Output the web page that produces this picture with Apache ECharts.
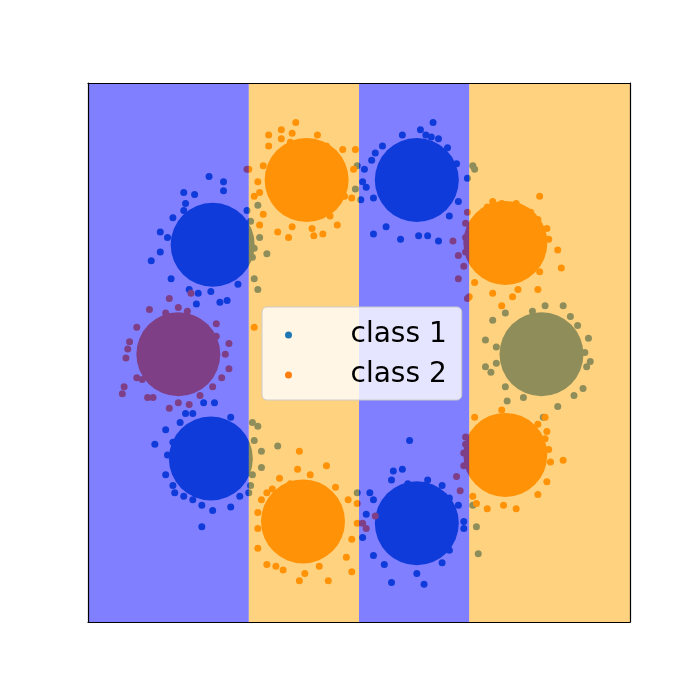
<!DOCTYPE html>
<html><head><meta charset="utf-8">
<script src="https://cdn.jsdelivr.net/npm/echarts@6/dist/echarts.min.js"></script>
<style>html,body{margin:0;padding:0;background:#fff}#c{width:700px;height:700px}</style>
</head><body><div id="c"></div>
<script>
// legend names
const classNames = ['class 1', 'class 2'];
// decision-region band edges along x and the class of each band
const bandEdges = [-1.5, -0.61, 0, 0.61, 1.5];
const bandClass = [1, 2, 1, 2];
// dense cluster cores (centres)
const class1Cores = [[-0.81,0.60],[0.32,0.96],[1.01,-0.01],[0.32,-0.95],[-0.82,-0.59]];
const class2Cores = [[-0.29,0.96],[0.81,0.61],[0.81,-0.57],[-0.31,-0.94],[-1.00,-0.01]];
// scattered points around the cores
const class1Points = [
[-0.83,0.98],[-0.75,0.95],[-0.75,0.90],[-0.97,0.89],[-0.91,0.88],[-0.96,0.83],[-0.97,0.79],[-1.03,0.75],[-1.10,0.67],[-1.06,0.64],[-1.10,0.56],[-1.15,0.51],[-1.04,0.41],[-0.94,0.35],[-0.89,0.33],[-0.90,0.27],[-0.82,0.34],[-0.77,0.28],[-0.73,0.29],[-0.67,0.38],[-0.56,0.82],[-0.62,0.79],[-0.55,0.64],[-0.51,0.55],[-0.58,0.58],[-0.59,0.53],[-0.58,0.41],[-0.56,0.35],[-0.60,0.73],
[0.41,1.28],[0.34,1.24],[0.37,1.21],[0.40,1.20],[0.44,1.19],[0.24,1.21],[0.13,1.15],[0.09,1.11],[0.07,1.07],[0.03,1.02],[0.02,0.95],[0.04,0.92],[0.01,0.85],[0.08,0.86],[0.08,0.66],[0.15,0.70],[0.23,0.63],[0.33,0.65],[0.38,0.65],[0.44,0.62],[0.50,0.76],[0.55,0.84],[0.60,0.97],[0.54,1.05],[0.49,1.14],[0.63,1.04],[0.64,1.02],[-0.01,1.04],[-0.02,0.91],
[1.03,0.26],[1.13,0.26],[0.96,0.23],[0.81,0.22],[0.74,0.18],[1.17,0.20],[1.21,0.15],[1.27,0.08],[0.70,0.07],[0.76,0.03],[0.76,-0.06],[0.70,-0.08],[0.73,-0.11],[0.81,-0.19],[0.91,-0.25],[0.82,-0.27],[1.10,-0.30],[1.02,-0.36],[1.19,-0.24],[1.24,-0.20],[1.28,-0.05],[1.26,-0.08],[1.25,0.00],
[0.28,-0.49],[0.19,-0.66],[0.24,-0.65],[0.18,-0.71],[0.27,-0.73],[0.38,-0.71],[0.46,-0.74],[0.06,-0.78],[0.08,-0.82],[0.04,-0.90],[0.02,-1.03],[0.08,-1.13],[0.14,-1.18],[0.18,-1.28],[0.36,-1.29],[0.32,-1.23],[0.46,-1.17],[0.50,-1.10],[0.58,-0.98],[0.58,-0.94],[0.55,-0.85],[0.50,-0.81],[0.63,-0.85],[0.65,-0.97],[0.66,-1.12],[-0.01,-0.78],
[-0.86,-0.28],[-0.80,-0.28],[-0.96,-0.34],[-0.92,-0.34],[-0.71,-0.36],[-0.99,-0.39],[-1.07,-0.43],[-1.03,-0.50],[-1.13,-0.51],[-1.06,-0.57],[-1.07,-0.68],[-1.03,-0.74],[-1.02,-0.78],[-0.97,-0.80],[-0.92,-0.82],[-0.87,-0.85],[-0.81,-0.88],[-0.71,-0.86],[-0.87,-0.97],[-0.66,-0.80],[-0.59,-0.39],[-0.56,-0.41],[-0.58,-0.49],[-0.54,-0.55],[-0.45,-0.52],[-0.54,-0.64],[-0.59,-0.68],[-0.60,-0.74],[-0.61,-0.78]
];
const class2Points = [
[-0.35,1.28],[-0.43,1.24],[-0.37,1.22],[-0.50,1.21],[-0.23,1.21],[-0.43,1.19],[-0.38,1.17],[-0.50,1.15],[-0.53,1.04],[-0.61,1.02],[-0.56,0.95],[-0.55,0.89],[-0.58,0.87],[-0.53,0.77],[-0.55,0.71],[-0.45,0.67],[-0.39,0.64],[-0.37,0.70],[-0.26,0.69],[-0.25,0.65],[-0.20,0.66],[-0.12,0.71],[-0.16,0.76],[-0.08,0.87],[-0.04,0.86],[-0.03,1.02],[-0.09,1.13],[-0.02,1.13],[-0.18,1.15],[-0.62,1.02],
[1.00,0.87],[0.74,0.84],[0.87,0.83],[0.79,0.83],[0.71,0.81],[0.60,0.78],[0.59,0.72],[0.52,0.62],[0.55,0.54],[0.59,0.56],[0.58,0.48],[0.55,0.41],[0.61,0.31],[0.64,0.39],[0.74,0.33],[0.79,0.26],[0.85,0.31],[0.88,0.35],[0.99,0.35],[1.00,0.45],[1.12,0.47],[1.10,0.57],[1.05,0.63],[1.04,0.69],[0.99,0.74],[0.95,0.78],[0.59,0.64],[0.60,0.30],
[0.79,-0.32],[0.64,-0.36],[1.03,-0.36],[0.99,-0.40],[1.04,-0.44],[1.03,-0.48],[0.59,-0.47],[0.59,-0.51],[0.58,-0.56],[0.58,-0.63],[0.54,-0.69],[0.56,-0.77],[0.63,-0.80],[0.65,-0.84],[0.71,-0.87],[0.80,-0.85],[0.87,-0.87],[0.99,-0.79],[1.04,-0.72],[1.13,-0.60],[1.05,-0.54],[1.06,-0.61],
[-0.33,-0.55],[-0.18,-0.63],[-0.34,-0.65],[-0.27,-0.68],[-0.44,-0.70],[-0.38,-0.73],[-0.48,-0.76],[-0.51,-0.78],[-0.54,-0.82],[-0.56,-0.89],[-0.56,-0.98],[-0.56,-1.09],[-0.51,-1.18],[-0.46,-1.19],[-0.42,-1.21],[-0.33,-1.27],[-0.30,-1.23],[-0.17,-1.27],[-0.22,-1.19],[-0.04,-1.22],[-0.07,-1.14],[-0.04,-1.04],[-0.01,-0.95],[-0.06,-0.82],[-0.13,-0.75],[-0.01,-0.84],[0.02,-0.95],[0.04,-0.98],[0.09,-0.91],
[-1.05,0.30],[-1.00,0.25],[-0.93,0.33],[-1.16,0.24],[-1.07,0.22],[-0.95,0.23],[-1.23,0.14],[-1.27,0.06],[-1.28,0.02],[-1.29,-0.03],[-0.79,0.16],[-0.79,0.09],[-0.72,0.05],[-0.74,-0.01],[-0.72,-0.09],[-0.76,-0.14],[-0.81,-0.19],[-0.88,-0.24],[-0.94,-0.29],[-1.05,-0.31],[-1.00,-0.28],[-1.14,-0.25],[-1.17,-0.25],[-1.20,-0.15],[-1.30,-0.19],[-1.31,-0.23],[-1.23,-0.14],
[-0.58,0.14]
];

const AX = {min: -1.5, max: 1.5};
const pointColors = ['#1f77b4', '#ff7f0e'];
const bandColors = {1: 'rgba(0,0,255,0.5)', 2: 'rgba(255,165,0,0.5)'};
const bands = bandClass.map((c, i) => [bandEdges[i], bandEdges[i + 1], c]);

function axis(pos) {
  return {
    type: 'value', position: pos, min: AX.min, max: AX.max, gridIndex: 0,
    axisLine: {show: true, onZero: false, lineStyle: {color: '#000', width: 1.2}},
    axisTick: {show: false}, axisLabel: {show: false}, splitLine: {show: false}, z: 10
  };
}

const chart = echarts.init(document.getElementById('c'), null, {renderer: 'canvas'});
chart.setOption({
  animation: false,
  backgroundColor: '#fff',
  grid: {left: 88, top: 83, width: 542, height: 539, containLabel: false},
  xAxis: [axis('bottom'), axis('top')],
  yAxis: [axis('left'), axis('right')],
  legend: {
    data: classNames, orient: 'vertical', left: 262, top: 307, z: 20,
    icon: 'circle', itemWidth: 30, itemHeight: 7, itemGap: 12,
    padding: [14, 15, 11, 23],
    backgroundColor: 'rgba(255,255,255,0.8)', borderColor: '#cccccc', borderWidth: 1, borderRadius: 5,
    formatter: function (n) { return '{t|' + n + '}'; },
    textStyle: {
      color: '#000',
      rich: {
        t: {fontFamily: 'DejaVu Sans', fontSize: 28, color: '#000', lineHeight: 30, padding: [0, 0, 0, 42]}
      }
    },
    selectedMode: false
  },
  series: [
    {name: classNames[0], type: 'scatter', z: 2, symbolSize: 84, itemStyle: {color: pointColors[0], opacity: 1}, data: class1Cores},
    {name: classNames[0], type: 'scatter', z: 2, symbolSize: 7, itemStyle: {color: pointColors[0], opacity: 1}, data: class1Points},
    {name: classNames[1], type: 'scatter', z: 2, symbolSize: 84, itemStyle: {color: pointColors[1], opacity: 1}, data: class2Cores},
    {name: classNames[1], type: 'scatter', z: 2, symbolSize: 7, itemStyle: {color: pointColors[1], opacity: 1}, data: class2Points},
    {
      type: 'custom', z: 5, silent: true, data: bands,
      encode: {x: [0, 1]},
      renderItem: function (params, api) {
        const p0 = api.coord([api.value(0), AX.max]);
        const p1 = api.coord([api.value(1), AX.min]);
        return {type: 'rect', shape: {x: p0[0], y: p0[1], width: p1[0] - p0[0], height: p1[1] - p0[1]},
                style: {fill: bandColors[api.value(2)]}};
      }
    }
  ]
});
</script></body></html>
